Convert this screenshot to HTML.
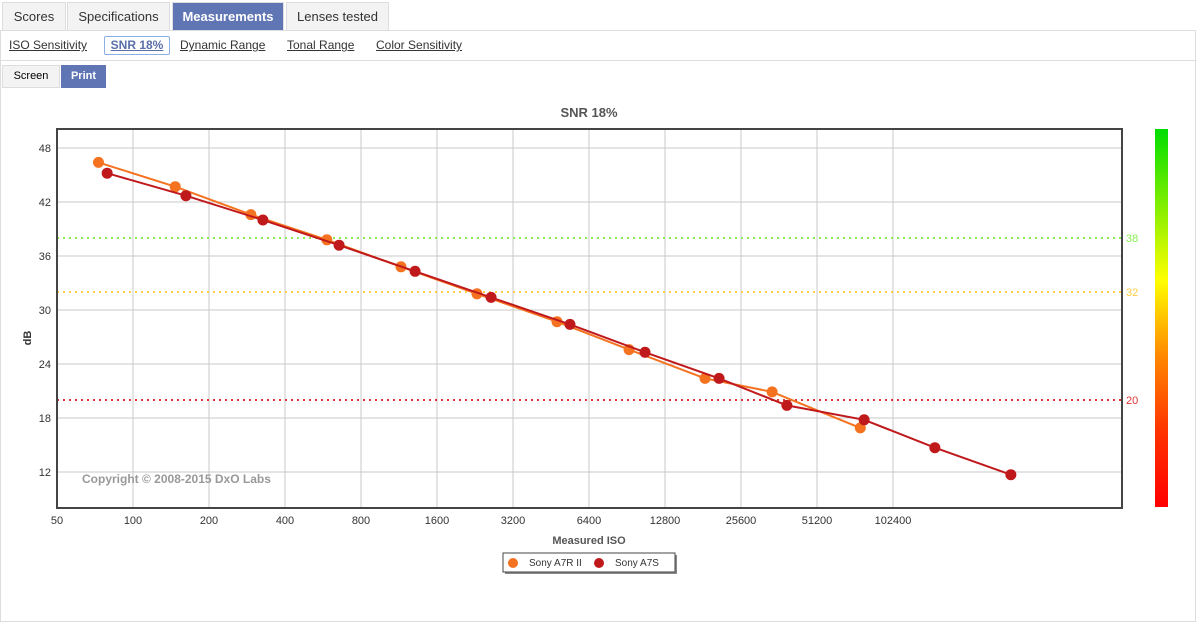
<!DOCTYPE html>
<html><head><meta charset="utf-8"><style>
body{margin:0;width:1196px;height:611px;background:#fff;font-family:"Liberation Sans",sans-serif;position:relative;overflow:hidden}
.tab{position:absolute;top:2px;height:28px;border:1px solid #ddd;border-bottom:none;background:#f3f3f3;color:#333;font-size:13px;line-height:28px;text-align:center}
.tab.on{background:#6076b4;color:#fff;font-weight:bold}
.sub{position:absolute;top:38px;font-size:12px;color:#333;text-decoration:underline}
.btn{position:absolute;top:65px;height:21px;font-size:11px;line-height:21px;text-align:center;border:1px solid #ddd;background:#f3f3f3}
</style></head><body>
<div class="tab" style="left:2px;width:62px">Scores</div>
<div class="tab" style="left:67px;width:101px">Specifications</div>
<div class="tab on" style="left:172px;width:110px">Measurements</div>
<div class="tab" style="left:286px;width:101px">Lenses tested</div>
<div style="position:absolute;left:0;top:30px;width:1194px;height:590px;border:1px solid #ddd"></div>
<div style="position:absolute;left:1px;top:60px;width:1194px;height:1px;background:#ddd"></div>
<div class="sub" style="left:9px">ISO Sensitivity</div>
<div class="sub" style="left:104px;top:36px;width:64px;height:17px;line-height:17px;border:1px solid #8ab0e6;border-radius:2px;text-align:center;font-weight:bold;color:#5a6fa8">SNR 18%</div>
<div class="sub" style="left:180px">Dynamic Range</div>
<div class="sub" style="left:287px">Tonal Range</div>
<div class="sub" style="left:376px">Color Sensitivity</div>
<div class="btn" style="left:2px;width:56px">Screen</div>
<div class="btn" style="left:61px;width:43px;background:#6076b4;color:#fff;font-weight:bold;border-color:#6076b4">Print</div>
<svg id="chart" width="1196" height="611" style="position:absolute;left:0;top:0" xmlns="http://www.w3.org/2000/svg">
<defs><linearGradient id="cb" x1="0" y1="0" x2="0" y2="1">
<stop offset="0" stop-color="#00dd00"/><stop offset="0.4" stop-color="#ffff00"/><stop offset="0.6" stop-color="#ff8800"/><stop offset="0.8" stop-color="#ff3300"/><stop offset="1" stop-color="#ff0000"/></linearGradient></defs>
</svg>
<script>
const xTicks=[50,100,200,400,800,1600,3200,6400,12800,25600,51200,102400];
const yTicks=[12,18,24,30,36,42,48];
const refLevels=[38,32,20];
const refColors=['#88ee55','#ffcc44','#dd3333'];
const isoA7R2=[73,147,293,586,1152,2304,4780,9220,18440,34000,76000];
const snrA7R2=[46.4,43.7,40.6,37.8,34.8,31.8,28.7,25.6,22.4,20.9,16.9];
const isoA7S=[79,162,327,655,1310,2620,5380,10670,20960,38900,78700,150000,300000];
const snrA7S=[45.2,42.7,40.0,37.2,34.3,31.4,28.4,25.3,22.4,19.4,17.8,14.7,11.7];
const svg=document.getElementById('chart');
const NS='http://www.w3.org/2000/svg';
const L=57,R=1122,T=129,B=508;
const X=v=>L+76*Math.log2(v/50);
const Y=v=>148+(48-v)*9;
function mk(t,a,p){const e=document.createElementNS(NS,t);for(const k in a)e.setAttribute(k,a[k]);(p||svg).appendChild(e);return e;}
let e;
e=mk('text',{x:589,y:117,'text-anchor':'middle','font-size':13,'font-weight':'bold',fill:'#555','font-family':'Liberation Sans'});e.textContent='SNR 18%';


yTicks.forEach(v=>{
 const l=mk('line',{x1:L,x2:R,y1:Y(v),y2:Y(v),stroke:'#c8c8c8','stroke-width':1});
 
 
 const t=mk('text',{x:51,y:Y(v)+4,'text-anchor':'end','font-size':11,fill:'#333','font-family':'Liberation Sans'});t.textContent=v;
 
 
});
xTicks.forEach(v=>{
 if(v>50){const l=mk('line',{x1:X(v),x2:X(v),y1:T,y2:B,stroke:'#c8c8c8','stroke-width':1});
 
 }
 const t=mk('text',{x:X(v),y:524,'text-anchor':'middle','font-size':11,fill:'#333','font-family':'Liberation Sans'});t.textContent=v;
 
 
});
refLevels.forEach((v,i)=>{
 const l=mk('line',{x1:L,x2:R,y1:Y(v),y2:Y(v),stroke:refColors[i],'stroke-width':2,'stroke-dasharray':'2,4'});
 
 
 const t=mk('text',{x:1126,y:Y(v)+4,'font-size':11,fill:refColors[i],'font-family':'Liberation Sans'});t.textContent=v;
 
 
});
e=mk('rect',{x:L,y:T,width:R-L,height:B-T,fill:'none',stroke:'#444','stroke-width':2});


e=mk('text',{x:82,y:483,'font-size':12,'font-weight':'bold',fill:'#999','font-family':'Liberation Sans'});e.textContent='Copyright © 2008-2015 DxO Labs';


function series(xs,ys,c,name){
 const pl=mk('polyline',{points:xs.map((v,i)=>X(v)+','+Y(ys[i])).join(' '),fill:'none',stroke:c,'stroke-width':2});
 
 
 xs.forEach((v,i)=>{const c2=mk('circle',{cx:X(v),cy:Y(ys[i]),r:5.5,fill:c});
 
 });
}
series(isoA7R2,snrA7R2,'#f57320','sony-a7r-ii');
series(isoA7S,snrA7S,'#c0191c','sony-a7s');
e=mk('rect',{x:1155,y:129,width:13,height:378,fill:'url(#cb)'});


e=mk('text',{x:31,y:338,'text-anchor':'middle','font-size':11,'font-weight':'bold',fill:'#333','font-family':'Liberation Sans',transform:'rotate(-90 31 338)'});e.textContent='dB';


e=mk('text',{x:589,y:544,'text-anchor':'middle','font-size':11,'font-weight':'bold',fill:'#555','font-family':'Liberation Sans'});e.textContent='Measured ISO';


const g=mk('g',{});


mk('rect',{x:505,y:555,width:172,height:19,fill:'#888'},g);
mk('rect',{x:503,y:553,width:172,height:19,fill:'#fff',stroke:'#444','stroke-width':1},g);
[['#f57320','Sony A7R II',513],['#c0191c','Sony A7S',599]].forEach(a=>{
 const c=mk('circle',{cx:a[2],cy:563,r:5,fill:a[0]},g);
 
 
 const t=mk('text',{x:a[2]+16,y:566,'font-size':10,fill:'#333','font-family':'Liberation Sans'},g);t.textContent=a[1];
 
 
});
</script>
</body></html>
